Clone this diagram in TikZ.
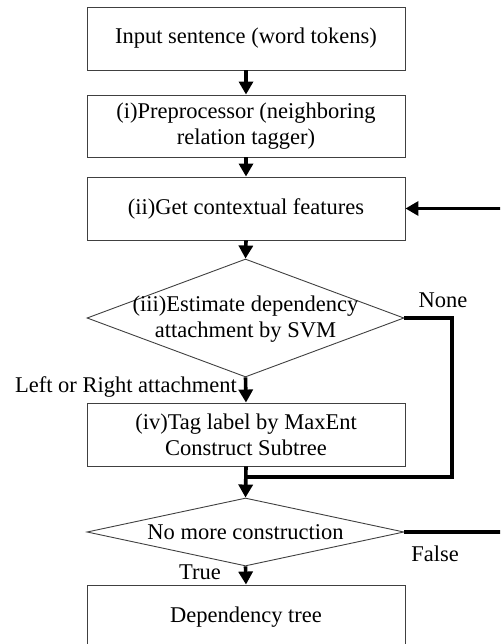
\documentclass[tikz,border=0pt]{standalone}
\usepackage{fontspec}
\setmainfont{Liberation Serif}
\usetikzlibrary{shapes.geometric,arrows.meta}
\begin{document}
\begin{tikzpicture}[x=1pt,y=-1pt,
  font=\fontsize{22.5}{26}\selectfont,
  boxnode/.style={draw=black!75,line width=0.9pt,rectangle,minimum width=318pt,inner sep=0pt,align=center},
  decnode/.style={draw=black!75,line width=0.9pt,diamond,minimum width=317pt,inner sep=0pt},
  txt/.style={inner sep=0pt,align=center},
  flow/.style={line width=3.6pt,-{Triangle[length=13pt,width=14pt]}},
  flowline/.style={line width=3.6pt},
  lbl/.style={inner sep=0pt}]
\clip (0,0) rectangle (500,644);
\node[boxnode,minimum height=63pt] (b1) at (246,38.5) {Input sentence (word tokens)};
\node[boxnode,minimum height=62pt] (b2) at (246,126) {(i)Preprocessor (neighboring\\relation tagger)};
\node[boxnode,minimum height=63pt] (b3) at (246,208.5) {(ii)Get contextual features};
\node[decnode,minimum height=118pt] (d1) at (245.5,318) {};
\node[txt] (d1t) at (245.5,319) {(iii)Estimate dependency\\attachment by SVM};
\node[boxnode,minimum height=63pt] (b4) at (246,434.5) {(iv)Tag label by MaxEnt\\Construct Subtree};
\node[decnode,minimum height=68pt] (d2) at (245.5,532) {};
\node[txt] (d2t) at (245.5,532) {No more construction};
\node[boxnode,minimum height=65pt] (b5) at (246,617.5) {Dependency tree};
\coordinate (n1) at (452,318);
\coordinate (n2) at (452,477);
\coordinate (j) at (246,477);
\coordinate (f1) at (520,532);
\coordinate (f2) at (520,208.5);
\draw[flow] (b1.south) -- (b2.north);
\draw[flow] (b2.south) -- (b3.north);
\draw[flow] (b3.south) -- (d1.north);
\draw[flow] (d1.south) -- (b4.north);
\draw[flow] (b4.south) -- (d2.north);
\draw[flow] (d2.south) -- (b5.north);
\draw[flowline,line join=miter] (d1.east) -- (n1) -- (n2) -- (j);
\draw[flow,line join=miter] (d2.east) -- (f1) -- (f2) -- (b3.east);
\node[lbl] (lnone) at (443,300) {None};
\node[lbl] (llr) at (126,387) {Left or Right attachment};
\node[lbl] (lfalse) at (435,554) {False};
\node[lbl] (ltrue) at (200,572) {True};
\end{tikzpicture}
\end{document}
